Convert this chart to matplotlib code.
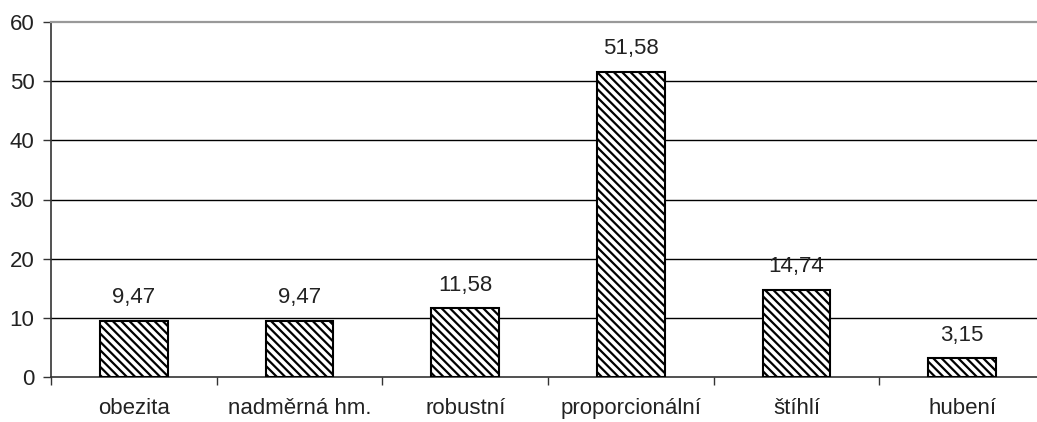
import numpy as np
import matplotlib
matplotlib.use('Agg')
import matplotlib.pyplot as plt
from matplotlib.ticker import FixedLocator

categories = ['obezita', 'nadměrná hm.', 'robustní', 'proporcionální', 'štíhlí', 'hubení']
values = [9.47, 9.47, 11.58, 51.58, 14.74, 3.15]
y_ticks = [0, 10, 20, 30, 40, 50, 60]

plt.rcParams['font.family'] = ['Liberation Sans', 'DejaVu Sans']
plt.rcParams['hatch.linewidth'] = 1.6
plt.rcParams['hatch.color'] = 'black'

fig = plt.figure(figsize=(10.37, 4.22), dpi=100)
# plot area runs past the right edge of the canvas
ax = fig.add_axes([51 / 1037, 1 - 377 / 422, 994 / 1037, 355 / 422])

x = np.arange(len(categories))
ax.bar(x, values, width=0.41, color='white', edgecolor='black',
       linewidth=1.5, hatch='\\\\\\\\', zorder=3)

for xi, v in zip(x, values):
    ax.annotate('{:.2f}'.format(v).replace('.', ','), (xi, v),
                xytext=(0, 9), textcoords='offset points',
                ha='center', va='bottom', fontsize=16, color='#222222')

ax.set_xlim(-0.5, len(categories) - 0.5)
ax.set_ylim(0, 60)
ax.set_yticks(y_ticks)
ax.set_xticks(x)
ax.set_xticklabels(categories)
ax.xaxis.set_minor_locator(FixedLocator(np.arange(-0.5, len(categories), 1.0)))
ax.tick_params(axis='x', which='major', length=0, pad=15, labelsize=16,
               labelcolor='#222222')
ax.tick_params(axis='x', which='minor', length=6, width=1.0, direction='out',
               color='#333333')
ax.tick_params(axis='y', length=6, width=1.0, direction='out', pad=6,
               labelsize=16, labelcolor='#222222', color='#333333')

for yv in y_ticks[1:-1]:
    ax.axhline(yv, color='black', linewidth=1.0, zorder=1)

ax.spines['right'].set_visible(False)
ax.spines['top'].set_color('#999999')
ax.spines['top'].set_linewidth(1.6)
ax.spines['left'].set_color('#333333')
ax.spines['left'].set_linewidth(1.2)
ax.spines['bottom'].set_color('#333333')
ax.spines['bottom'].set_linewidth(1.2)

fig.savefig('out.png', dpi=100)
